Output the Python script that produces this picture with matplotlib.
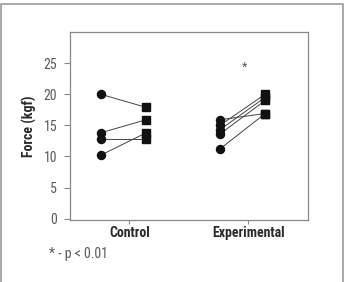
import matplotlib
matplotlib.use("Agg")
import matplotlib.pyplot as plt
from matplotlib import font_manager
from matplotlib.patches import Rectangle

groups = ["Control", "Experimental"]
control_pre = [20.0, 13.8, 12.8, 10.2]
control_post = [17.9, 15.9, 12.8, 13.8]
exp_pre = [15.9, 15.0, 14.3, 13.6, 11.2]
exp_post = [16.9, 20.0, 19.5, 19.0, 16.9]
yticks = [0, 5, 10, 15, 20, 25]

_GREY = "#5a5a5a"
_DARK = "#2a2a2a"

names = {f.name for f in font_manager.fontManager.ttflist}
FONT = [n for n in ("Liberation Sans Narrow", "DejaVu Sans Condensed", "Roboto Condensed",
                    "Open Sans Condensed", "Roboto") if n in names] + ["DejaVu Sans"]

fig = plt.figure(figsize=(3.45, 2.82), dpi=100)
fig.patches.append(Rectangle((0.004, -0.1), 0.99, 1.087, transform=fig.transFigure,
                             fill=False, edgecolor="#999999", lw=1.2))
ax = fig.add_axes([0.202, 0.22, 0.691, 0.6665])

for x0, pre, post in ((1, control_pre, control_post), (2, exp_pre, exp_post)):
    for a, b in zip(pre, post):
        ax.plot([x0 - 0.24, x0 + 0.14], [a, b], color="#444444", lw=0.7, zorder=2)
    ax.plot([x0 - 0.24] * len(pre), pre, "o", color="#111111", ms=5.8, zorder=3)
    ax.plot([x0 + 0.14] * len(post), post, "s", color="#111111", ms=5.8, zorder=3)

ax.text(1.97, 24.4, "*", ha="center", va="center", fontsize=9, color=_GREY, family=FONT)

ax.set_xlim(0.5, 2.5)
ax.set_ylim(-0.2, 30)
ax.set_xticks([1, 2])
ax.set_xticklabels(groups, fontsize=10, color=_DARK, family=FONT, fontweight="semibold")
ax.set_yticks(yticks)
ax.set_yticklabels([str(t) for t in yticks], fontsize=10, color=_GREY, family=FONT)
ax.set_ylabel("Force (kgf)", fontsize=10, color=_DARK, family=FONT, fontweight="semibold",
              labelpad=5)
ax.tick_params(axis="y", length=4, width=0.8, color="#888888", pad=5)
ax.tick_params(axis="x", length=3, width=0.8, color="#888888", pad=1.5)
for s in ax.spines.values():
    s.set_color("#888888")
    s.set_linewidth(0.9)

fig.text(0.143, 0.085, "* - p < 0.01", fontsize=10, color=_GREY, family=FONT)

fig.savefig("out.png", dpi=100, facecolor="white")
